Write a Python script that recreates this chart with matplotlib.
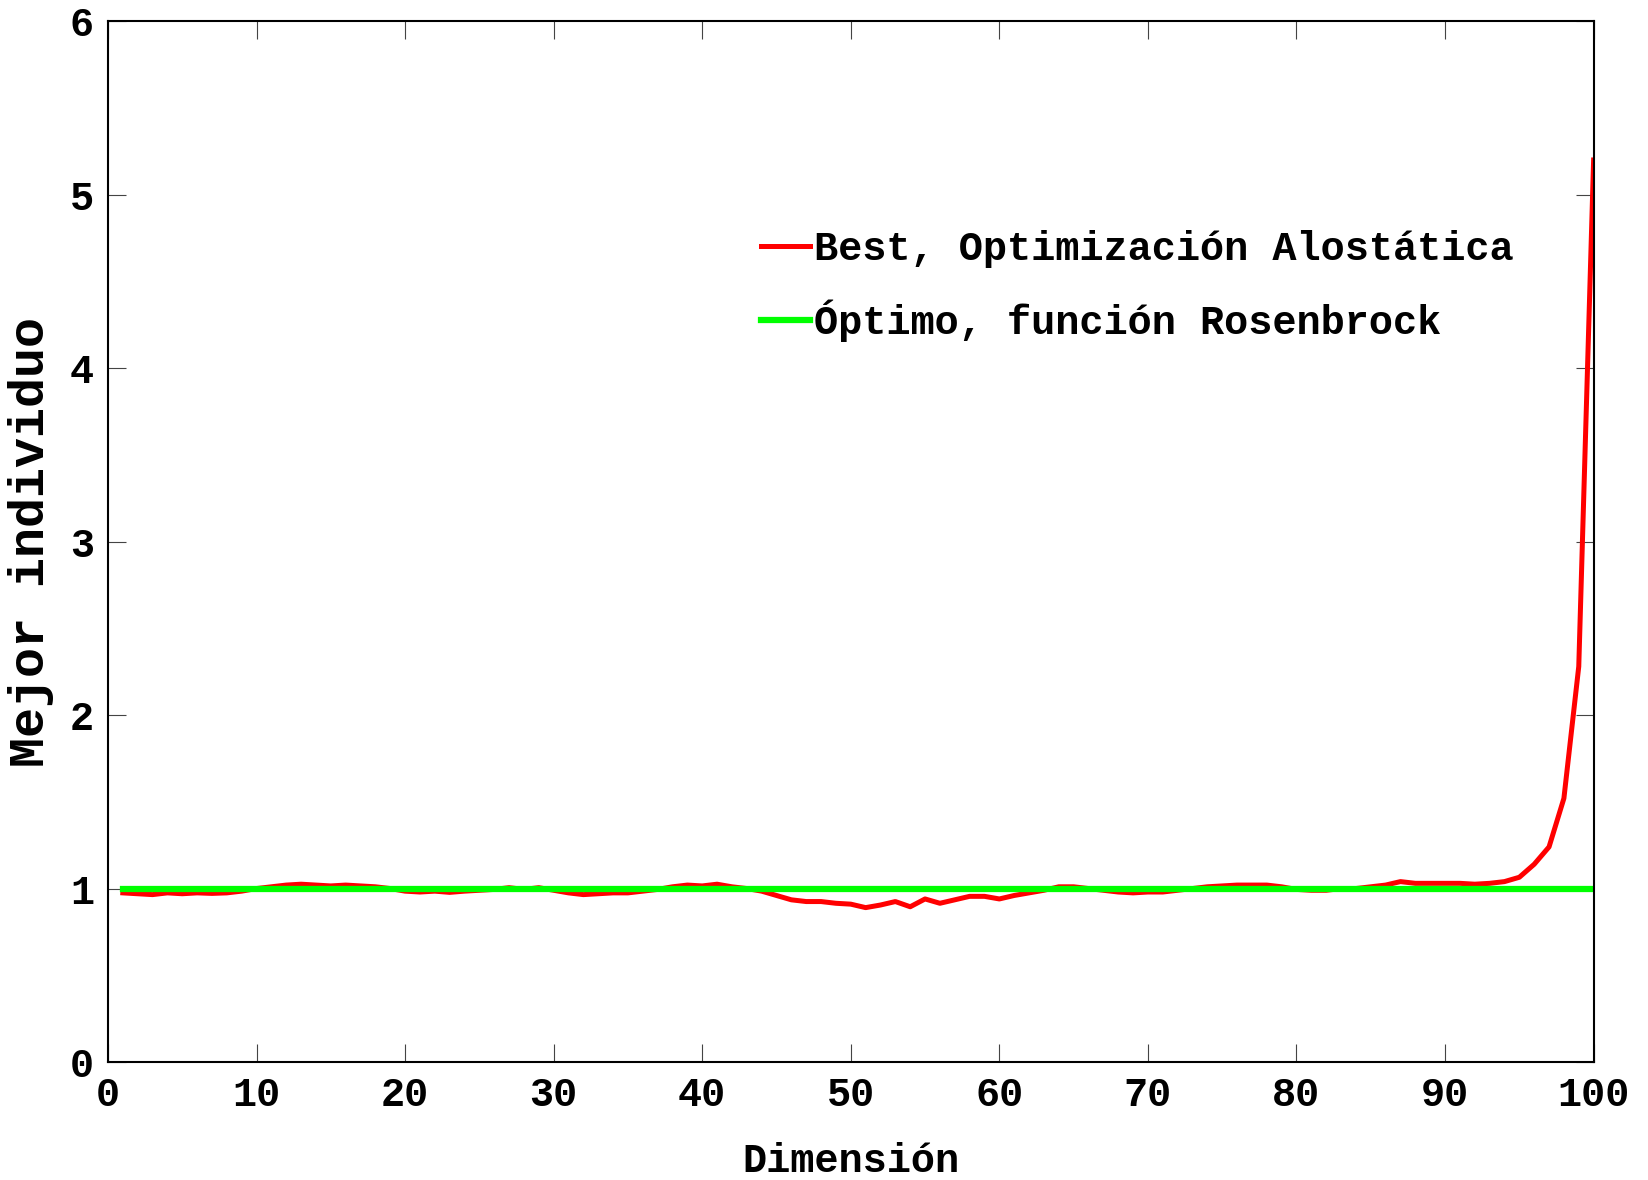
import numpy as np
import matplotlib
matplotlib.use("Agg")
import matplotlib.pyplot as plt

dims = list(range(1, 101))
best = [0.975, 0.97, 0.965, 0.975, 0.97, 0.975, 0.972, 0.975, 0.985, 1.0,
        1.01, 1.02, 1.025, 1.02, 1.015, 1.02, 1.015, 1.01, 1.0, 0.985,
        0.98, 0.985, 0.978, 0.985, 0.99, 0.995, 1.005, 0.995, 1.005, 0.99,
        0.975, 0.965, 0.97, 0.975, 0.975, 0.985, 0.995, 1.01, 1.02, 1.015,
        1.025, 1.01, 1.0, 0.985, 0.96, 0.935, 0.925, 0.925, 0.915, 0.91,
        0.89, 0.905, 0.925, 0.895, 0.94, 0.915, 0.935, 0.955, 0.955, 0.94,
        0.96, 0.975, 0.99, 1.01, 1.01, 1.0, 0.99, 0.98, 0.975, 0.98,
        0.98, 0.99, 1.0, 1.01, 1.015, 1.02, 1.02, 1.02, 1.01, 0.995,
        0.99, 0.99, 1.0, 1.0, 1.01, 1.02, 1.04, 1.03, 1.03, 1.03,
        1.03, 1.025, 1.03, 1.04, 1.065, 1.14, 1.24, 1.52, 2.28, 5.2]
optimum = [1.0] * 100

xticks = list(range(0, 101, 10))
yticks = list(range(0, 7))

label_best = "Best, Optimización Alostática"
label_opt = "Óptimo, función Rosenbrock"
xlabel = "Dimensión"
ylabel = "Mejor individuo"

font = ["Liberation Mono", "DejaVu Sans Mono"]
plt.rcParams['font.family'] = font
plt.rcParams['font.weight'] = 'bold'

fig = plt.figure(figsize=(16.48, 11.8), dpi=100)
ax = fig.add_axes([0.0655, 0.100, 0.9015, 0.882])

ax.plot(dims, best, color="#FF0000", lw=3.6, label=label_best, solid_joinstyle='round')
ax.plot(dims, optimum, color="#00FF00", lw=4.5, label=label_opt)

ax.set_xlim(0, 100)
ax.set_ylim(0, 6)
ax.set_xticks(xticks)
ax.set_yticks(yticks)
ax.tick_params(direction='in', length=13, width=0.8, color='#444444',
               top=True, right=True, labelsize=29, pad=10)
for lab in ax.get_xticklabels() + ax.get_yticklabels():
    lab.set_fontweight('bold')
for s in ax.spines.values():
    s.set_linewidth(1.5)
    s.set_color('black')

ax.set_xlabel(xlabel, fontsize=29, fontweight='bold', labelpad=20)
yl = ax.set_ylabel(ylabel, fontsize=36, fontweight='bold', va='center')
ax.yaxis.set_label_coords(-0.052, 0.5)

leg = ax.legend(loc='upper left', bbox_to_anchor=(0.429, 0.815), frameon=False,
                prop={'family': font, 'weight': 'bold', 'size': 29},
                handlelength=1.2, handletextpad=0.1, labelspacing=0.78,
                borderaxespad=0)

fig.savefig("out.png", dpi=100, facecolor='white')
